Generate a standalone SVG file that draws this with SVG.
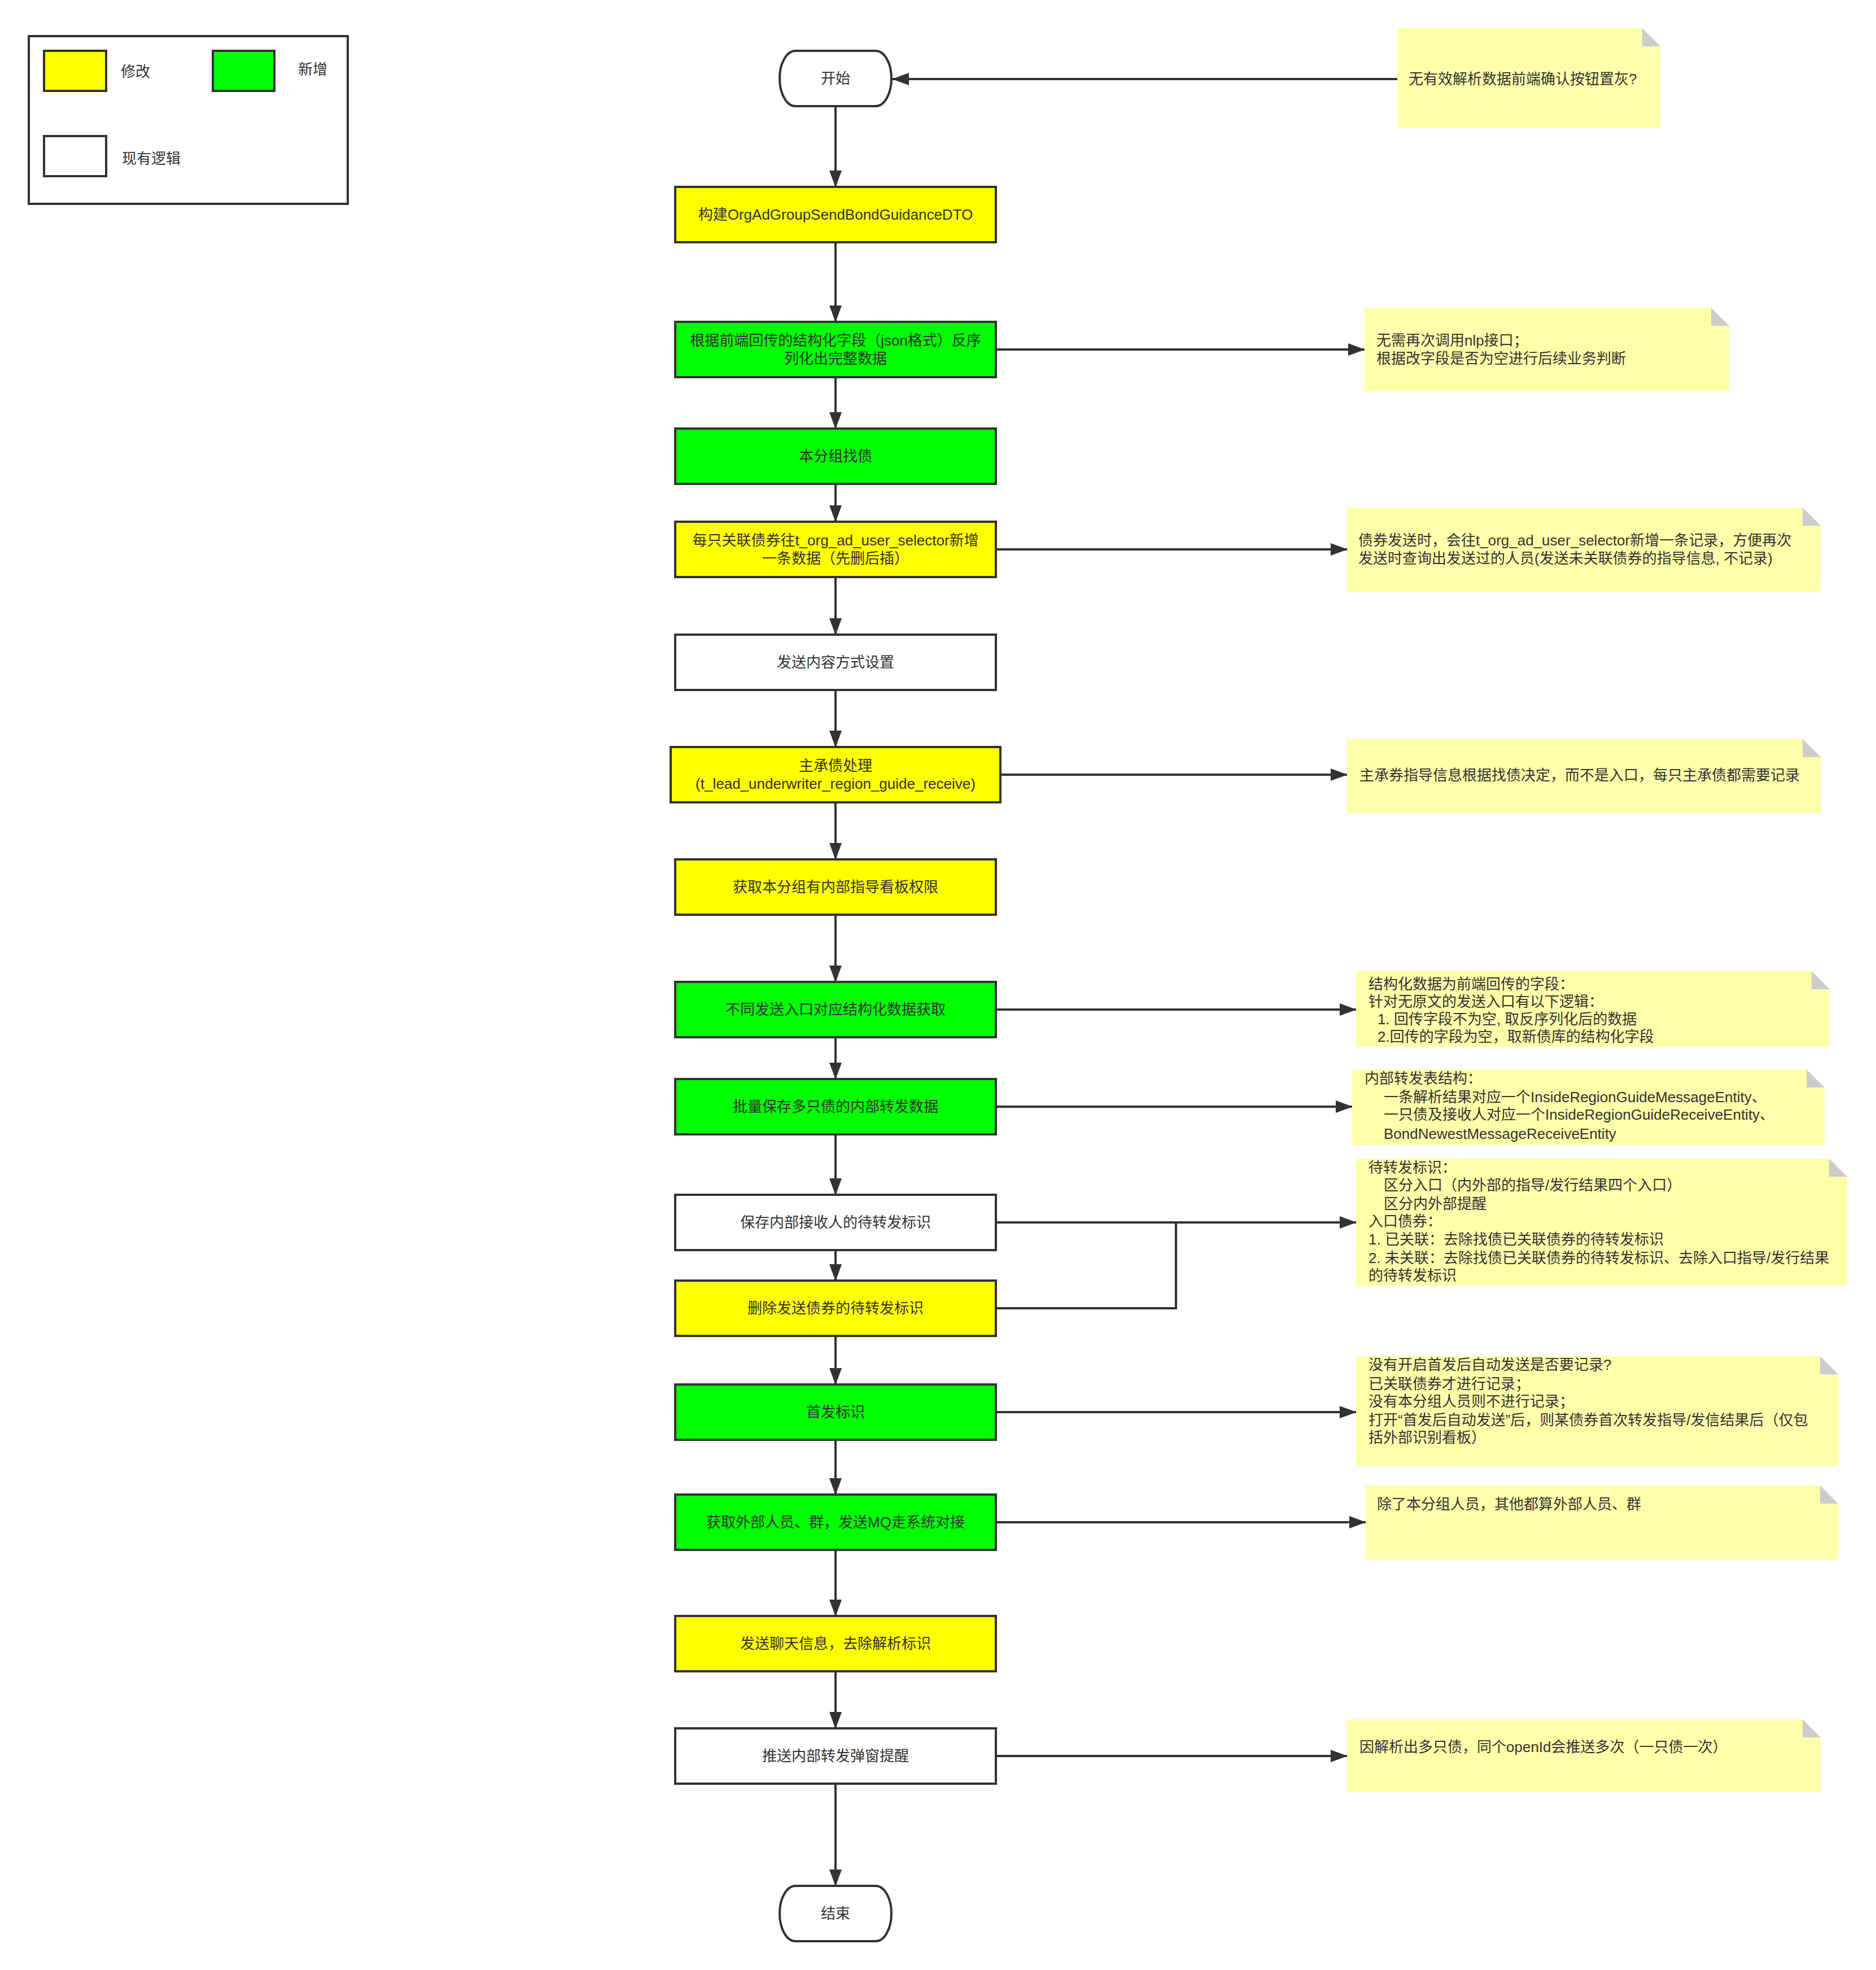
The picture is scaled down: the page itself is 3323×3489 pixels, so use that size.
<svg xmlns="http://www.w3.org/2000/svg" width="3323" height="3489" viewBox="0 0 3323 3489">
<defs>
<style>
text{font-family:"Liberation Sans","Noto Sans CJK SC",sans-serif;font-size:26px;fill:#323232}
.c{text-anchor:middle}
.box{stroke:#323232;stroke-width:4}
.y{fill:#ffff00}
.g{fill:#00ff00}
.w{fill:#ffffff}
.note{fill:#ffffaa}
.fold{fill:#cccccc}
.ln{fill:none;stroke:#323232;stroke-width:4}
</style>
<marker id="ah" markerUnits="userSpaceOnUse" markerWidth="30" markerHeight="22" refX="29" refY="11" orient="auto">
<path d="M0,0 L30,11 L0,22 Z" fill="#323232"/>
</marker>
</defs>
<rect width="3323" height="3489" fill="#ffffff"/>

<g id="legend">
<rect x="51" y="64" width="565" height="297" fill="#ffffff" stroke="#323232" stroke-width="4"/>
<rect class="box y" x="78" y="90" width="110" height="71"/>
<text x="214" y="136">修改</text>
<rect class="box g" x="377" y="90" width="109" height="71"/>
<text x="528" y="132">新增</text>
<rect class="box w" x="78" y="241" width="110" height="71"/>
<text x="216" y="290">现有逻辑</text>
</g>

<g id="connectors">
<path class="ln" marker-end="url(#ah)" d="M1480,188 V331"/>
<path class="ln" marker-end="url(#ah)" d="M1480,429 V570"/>
<path class="ln" marker-end="url(#ah)" d="M1480,668 V759"/>
<path class="ln" marker-end="url(#ah)" d="M1480,857 V924"/>
<path class="ln" marker-end="url(#ah)" d="M1480,1022 V1124"/>
<path class="ln" marker-end="url(#ah)" d="M1480,1222 V1323"/>
<path class="ln" marker-end="url(#ah)" d="M1480,1421 V1522"/>
<path class="ln" marker-end="url(#ah)" d="M1480,1620 V1739"/>
<path class="ln" marker-end="url(#ah)" d="M1480,1837 V1911"/>
<path class="ln" marker-end="url(#ah)" d="M1480,2009 V2116"/>
<path class="ln" marker-end="url(#ah)" d="M1480,2214 V2268"/>
<path class="ln" marker-end="url(#ah)" d="M1480,2366 V2452"/>
<path class="ln" marker-end="url(#ah)" d="M1480,2550 V2647"/>
<path class="ln" marker-end="url(#ah)" d="M1480,2745 V2862"/>
<path class="ln" marker-end="url(#ah)" d="M1480,2960 V3061"/>
<path class="ln" marker-end="url(#ah)" d="M1480,3159 V3340"/>
<path class="ln" marker-end="url(#ah)" d="M2475,140 H1581"/>
<path class="ln" marker-end="url(#ah)" d="M1764,619 H2417"/>
<path class="ln" marker-end="url(#ah)" d="M1764,973 H2386"/>
<path class="ln" marker-end="url(#ah)" d="M1772,1372 H2386"/>
<path class="ln" marker-end="url(#ah)" d="M1764,1788 H2402"/>
<path class="ln" marker-end="url(#ah)" d="M1764,1960 H2395"/>
<path class="ln" marker-end="url(#ah)" d="M1764,2165 H2402"/>
<path class="ln" d="M1764,2317 H2083 V2165"/>
<path class="ln" marker-end="url(#ah)" d="M1764,2501 H2402"/>
<path class="ln" marker-end="url(#ah)" d="M1764,2696 H2419"/>
<path class="ln" marker-end="url(#ah)" d="M1764,3110 H2386"/>
</g>

<g id="start">
<rect class="box w" x="1381" y="90" width="198" height="98" rx="28" ry="49"/>
<text class="c" x="1480" y="148">开始</text>
</g>
<g id="n1">
<rect class="box y" x="1196" y="331" width="568" height="98"/>
<text class="c" x="1480" y="389">构建OrgAdGroupSendBondGuidanceDTO</text>
</g>
<g id="n2">
<rect class="box g" x="1196" y="570" width="568" height="98"/>
<text class="c" x="1480" y="612">根据前端回传的结构化字段（json格式）反序</text>
<text class="c" x="1480" y="644">列化出完整数据</text>
</g>
<g id="n3">
<rect class="box g" x="1196" y="759" width="568" height="98"/>
<text class="c" x="1480" y="817">本分组找债</text>
</g>
<g id="n4">
<rect class="box y" x="1196" y="924" width="568" height="98"/>
<text class="c" x="1480" y="966">每只关联债券往t_org_ad_user_selector新增</text>
<text class="c" x="1480" y="998">一条数据（先删后插）</text>
</g>
<g id="n5">
<rect class="box w" x="1196" y="1124" width="568" height="98"/>
<text class="c" x="1480" y="1182">发送内容方式设置</text>
</g>
<g id="n6">
<rect class="box y" x="1188" y="1323" width="584" height="98"/>
<text class="c" x="1480" y="1365">主承债处理</text>
<text class="c" x="1480" y="1397">(t_lead_underwriter_region_guide_receive)</text>
</g>
<g id="n7">
<rect class="box y" x="1196" y="1522" width="568" height="98"/>
<text class="c" x="1480" y="1580">获取本分组有内部指导看板权限</text>
</g>
<g id="n8">
<rect class="box g" x="1196" y="1739" width="568" height="98"/>
<text class="c" x="1480" y="1797">不同发送入口对应结构化数据获取</text>
</g>
<g id="n9">
<rect class="box g" x="1196" y="1911" width="568" height="98"/>
<text class="c" x="1480" y="1969">批量保存多只债的内部转发数据</text>
</g>
<g id="n10">
<rect class="box w" x="1196" y="2116" width="568" height="98"/>
<text class="c" x="1480" y="2174">保存内部接收人的待转发标识</text>
</g>
<g id="n11">
<rect class="box y" x="1196" y="2268" width="568" height="98"/>
<text class="c" x="1480" y="2326">删除发送债券的待转发标识</text>
</g>
<g id="n12">
<rect class="box g" x="1196" y="2452" width="568" height="98"/>
<text class="c" x="1480" y="2510">首发标识</text>
</g>
<g id="n13">
<rect class="box g" x="1196" y="2647" width="568" height="98"/>
<text class="c" x="1480" y="2705">获取外部人员、群，发送MQ走系统对接</text>
</g>
<g id="n14">
<rect class="box y" x="1196" y="2862" width="568" height="98"/>
<text class="c" x="1480" y="2920">发送聊天信息，去除解析标识</text>
</g>
<g id="n15">
<rect class="box w" x="1196" y="3061" width="568" height="98"/>
<text class="c" x="1480" y="3119">推送内部转发弹窗提醒</text>
</g>
<g id="end">
<rect class="box w" x="1381" y="3340" width="198" height="98" rx="28" ry="49"/>
<text class="c" x="1480" y="3398">结束</text>
</g>

<g id="note1" transform="translate(2475,50)">
<path class="note" d="M0,0 H434 L466,32 V176 H0 Z"/>
<path class="fold" d="M434,0 L466,32 H434 Z"/>
<text x="20" y="99">无有效解析数据前端确认按钮置灰?</text>
</g>
<g id="note2" transform="translate(2417,545)">
<path class="note" d="M0,0 H614 L646,32 V148 H0 Z"/>
<path class="fold" d="M614,0 L646,32 H614 Z"/>
<text x="21" y="67">无需再次调用nlp接口；</text>
<text x="21" y="99">根据改字段是否为空进行后续业务判断</text>
</g>
<g id="note3" transform="translate(2386,899)">
<path class="note" d="M0,0 H807 L839,32 V149 H0 Z"/>
<path class="fold" d="M807,0 L839,32 H807 Z"/>
<text x="20" y="67">债券发送时，会往t_org_ad_user_selector新增一条记录，方便再次</text>
<text x="20" y="99">发送时查询出发送过的人员(发送未关联债券的指导信息, 不记录)</text>
</g>
<g id="note4" transform="translate(2386,1309)">
<path class="note" d="M0,0 H807 L839,32 V131 H0 Z"/>
<path class="fold" d="M807,0 L839,32 H807 Z"/>
<text x="22" y="73">主承券指导信息根据找债决定，而不是入口，每只主承债都需要记录</text>
</g>
<g id="note5" transform="translate(2402,1720)">
<path class="note" d="M0,0 H807 L839,32 V134 H0 Z"/>
<path class="fold" d="M807,0 L839,32 H807 Z"/>
<text x="22" y="32">结构化数据为前端回传的字段：</text>
<text x="22" y="63">针对无原文的发送入口有以下逻辑：</text>
<text x="38" y="94">1. 回传字段不为空, 取反序列化后的数据</text>
<text x="38" y="125">2.回传的字段为空，取新债库的结构化字段</text>
</g>
<g id="note6" transform="translate(2395,1894)">
<path class="note" d="M0,0 H805 L837,32 V134 H0 Z"/>
<path class="fold" d="M805,0 L837,32 H805 Z"/>
<text x="22" y="25">内部转发表结构：</text>
<text x="56" y="58">一条解析结果对应一个InsideRegionGuideMessageEntity、</text>
<text x="56" y="89">一只债及接收人对应一个InsideRegionGuideReceiveEntity、</text>
<text x="56" y="123">BondNewestMessageReceiveEntity</text>
</g>
<g id="note7" transform="translate(2402,2052)">
<path class="note" d="M0,0 H838 L870,32 V225 H0 Z"/>
<path class="fold" d="M838,0 L870,32 H838 Z"/>
<text x="22" y="25">待转发标识：</text>
<text x="49" y="56">区分入口（内外部的指导/发行结果四个入口）</text>
<text x="49" y="89">区分内外部提醒</text>
<text x="22" y="120">入口债券：</text>
<text x="22" y="152">1. 已关联：去除找债已关联债券的待转发标识</text>
<text x="22" y="185">2. 未关联：去除找债已关联债券的待转发标识、去除入口指导/发行结果</text>
<text x="22" y="216">的待转发标识</text>
</g>
<g id="note8" transform="translate(2402,2402)">
<path class="note" d="M0,0 H822 L854,32 V195 H0 Z"/>
<path class="fold" d="M822,0 L854,32 H822 Z"/>
<text x="22" y="24">没有开启首发后自动发送是否要记录?</text>
<text x="22" y="58">已关联债券才进行记录；</text>
<text x="22" y="89">没有本分组人员则不进行记录；</text>
<text x="22" y="122">打开“首发后自动发送”后，则某债券首次转发指导/发信结果后（仅包</text>
<text x="22" y="153">括外部识别看板）</text>
</g>
<g id="note9" transform="translate(2419,2631)">
<path class="note" d="M0,0 H805 L837,32 V131 H0 Z"/>
<path class="fold" d="M805,0 L837,32 H805 Z"/>
<text x="20" y="42">除了本分组人员，其他都算外部人员、群</text>
</g>
<g id="note10" transform="translate(2386,3045)">
<path class="note" d="M0,0 H807 L839,32 V129 H0 Z"/>
<path class="fold" d="M807,0 L839,32 H807 Z"/>
<text x="22" y="58">因解析出多只债，同个openId会推送多次（一只债一次）</text>
</g>
</svg>
